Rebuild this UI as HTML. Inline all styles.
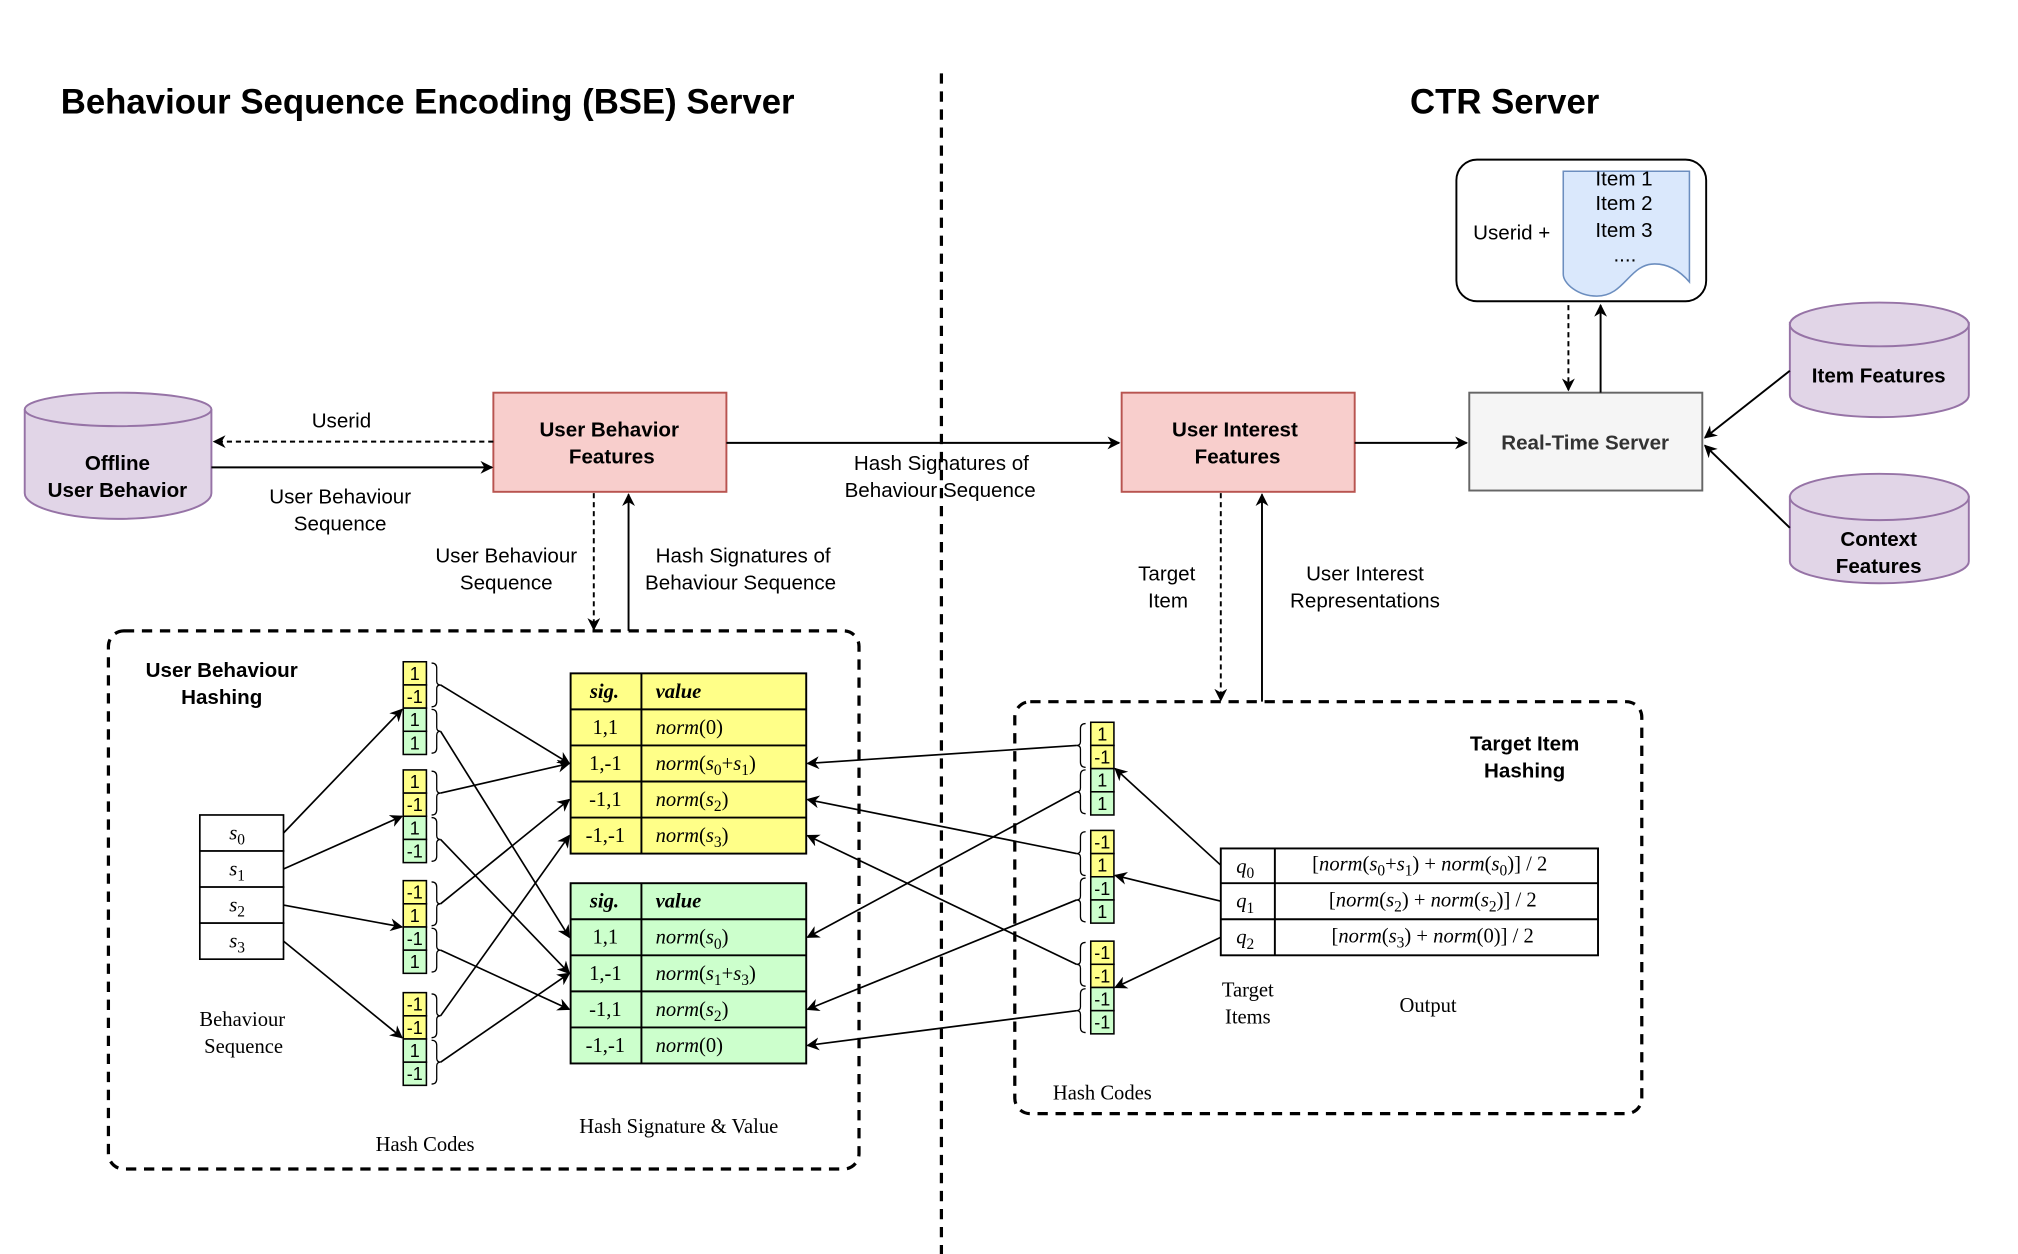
<!DOCTYPE html>
<html><head><meta charset="utf-8"><style>
html,body{margin:0;padding:0;background:#fff;}
svg{display:block;}
.s{font-family:"Liberation Sans",sans-serif;}
.r{font-family:"Liberation Serif",serif;}
</style></head><body>
<svg width="2018" height="1254" viewBox="0 0 1567 974" xmlns="http://www.w3.org/2000/svg">
<defs>
<marker id="a" markerWidth="10" markerHeight="10" refX="9" refY="5" orient="auto" markerUnits="userSpaceOnUse"><path d="M0,0 L10,5 L0,10 L3,5 Z" fill="#000"/></marker>
</defs>
<rect width="1567" height="974" fill="#fff"/>
<text x="47" y="88" class="s" font-size="27" font-weight="bold">Behaviour Sequence Encoding (BSE) Server</text>
<text x="1095" y="88" class="s" font-size="27" font-weight="bold">CTR Server</text>
<line x1="731" y1="57" x2="731" y2="974" stroke="#000" stroke-width="2.5" stroke-dasharray="8,6"/>

<g stroke="#9673a6" stroke-width="1.5" fill="#e1d5e7">
<path d="M19,318 L19,383 A72.5,20 0 0 0 164,383 L164,318"/>
<ellipse cx="91.5" cy="318" rx="72.5" ry="13"/>
<path d="M1390,250 L1390,307 A69.5,17 0 0 0 1529,307 L1529,250"/>
<ellipse cx="1459.5" cy="252" rx="69.5" ry="17"/>
<path d="M1390,385 L1390,436 A69.5,17 0 0 0 1529,436 L1529,385"/>
<ellipse cx="1459.5" cy="386" rx="69.5" ry="18"/>
</g>
<g class="s" font-size="16" font-weight="bold" text-anchor="middle">
<text x="91" y="365">Offline</text><text x="91" y="386">User Behavior</text>
<text x="1459" y="297">Item Features</text>
<text x="1459" y="424">Context</text><text x="1459" y="445">Features</text>
</g>

<rect x="383" y="305" width="181" height="77" fill="#f8cecc" stroke="#b85450" stroke-width="1.5"/>
<rect x="871" y="305" width="181" height="77" fill="#f8cecc" stroke="#b85450" stroke-width="1.5"/>
<rect x="1141" y="305" width="181" height="76" fill="#f5f5f5" stroke="#666" stroke-width="1.5"/>
<g class="s" font-size="16" font-weight="bold" text-anchor="middle">
<text x="473" y="339">User Behavior</text><text x="475" y="360">Features</text>
<text x="959" y="339">User Interest</text><text x="961" y="360">Features</text>
<text x="1231" y="349" fill="#333">Real-Time Server</text>
</g>

<rect x="1131" y="124" width="194" height="110" rx="16" fill="#fff" stroke="#000" stroke-width="1.5"/>
<path d="M1214,133 L1312,133 L1312,219 Q1300,205 1285,205 C1265,205 1262,230 1240,230 C1225,230 1214,220 1214,213 Z" fill="#dae8fc" stroke="#6c8ebf" stroke-width="1.2"/>
<g class="s" font-size="16">
<text x="1144" y="186">Userid +</text>
<text x="1239" y="144">Item 1</text><text x="1239" y="163">Item 2</text><text x="1239" y="184">Item 3</text>
<text x="1253" y="203">....</text>
</g>

<g stroke="#000" stroke-width="1.5" fill="none" marker-end="url(#a)">
<line x1="383" y1="343" x2="166" y2="343" stroke-dasharray="4,3"/>
<line x1="164" y1="363" x2="382" y2="363"/>
<line x1="564" y1="344" x2="869" y2="344"/>
<line x1="1052" y1="344" x2="1139" y2="344"/>
<line x1="1218" y1="237" x2="1218" y2="303" stroke-dasharray="4,3"/>
<line x1="1243" y1="305" x2="1243" y2="237"/>
<line x1="1390" y1="288" x2="1324" y2="340"/>
<line x1="1390" y1="410" x2="1324" y2="346"/>
<line x1="461" y1="383" x2="461" y2="489" stroke-dasharray="4,3"/>
<line x1="488" y1="490" x2="488" y2="384"/>
<line x1="948" y1="383" x2="948" y2="544" stroke-dasharray="4,3"/>
<line x1="980" y1="545" x2="980" y2="384"/>
</g>
<g class="s" font-size="16" text-anchor="middle">
<text x="265" y="332">Userid</text>
<text x="264" y="391">User Behaviour</text><text x="264" y="412">Sequence</text>
<text x="731" y="365">Hash Signatures of</text><text x="730" y="386">Behaviour Sequence</text>
<text x="393" y="437">User Behaviour</text><text x="393" y="458">Sequence</text>
<text x="577" y="437">Hash Signatures of</text><text x="575" y="458">Behaviour Sequence</text>
<text x="906" y="451">Target</text><text x="907" y="472">Item</text>
<text x="1060" y="451">User Interest</text><text x="1060" y="472">Representations</text>
</g>

<rect x="84" y="490" width="583" height="418" rx="12" fill="none" stroke="#000" stroke-width="2.5" stroke-dasharray="8,6"/>
<rect x="788" y="545" width="487" height="320" rx="12" fill="none" stroke="#000" stroke-width="2.5" stroke-dasharray="8,6"/>
<g class="s" font-size="16" font-weight="bold" text-anchor="middle">
<text x="172" y="526">User Behaviour</text><text x="172" y="547">Hashing</text>
<text x="1184" y="583">Target Item</text><text x="1184" y="604">Hashing</text>
</g>

<g stroke="#000" stroke-width="1.3" fill="#fff">
<rect x="155" y="633" width="65" height="28"/><rect x="155" y="661" width="65" height="28"/>
<rect x="155" y="689" width="65" height="28"/><rect x="155" y="717" width="65" height="28"/>
</g>
<g class="r" font-size="16" font-style="italic" text-anchor="middle">
<text x="184" y="652">s<tspan font-size="12" dy="4" font-style="normal">0</tspan></text>
<text x="184" y="680">s<tspan font-size="12" dy="4" font-style="normal">1</tspan></text>
<text x="184" y="708">s<tspan font-size="12" dy="4" font-style="normal">2</tspan></text>
<text x="184" y="736">s<tspan font-size="12" dy="4" font-style="normal">3</tspan></text>
</g>

<g stroke="#000" stroke-width="1.2">
<rect x="313" y="514" width="18" height="18" fill="#ffff88"/><rect x="313" y="532" width="18" height="18" fill="#ffff88"/><rect x="313" y="550" width="18" height="18" fill="#ccffcc"/><rect x="313" y="568" width="18" height="18" fill="#ccffcc"/>
<rect x="313" y="598" width="18" height="18" fill="#ffff88"/><rect x="313" y="616" width="18" height="18" fill="#ffff88"/><rect x="313" y="634" width="18" height="18" fill="#ccffcc"/><rect x="313" y="652" width="18" height="18" fill="#ccffcc"/>
<rect x="313" y="684" width="18" height="18" fill="#ffff88"/><rect x="313" y="702" width="18" height="18" fill="#ffff88"/><rect x="313" y="720" width="18" height="18" fill="#ccffcc"/><rect x="313" y="738" width="18" height="18" fill="#ccffcc"/>
<rect x="313" y="771" width="18" height="18" fill="#ffff88"/><rect x="313" y="789" width="18" height="18" fill="#ffff88"/><rect x="313" y="807" width="18" height="18" fill="#ccffcc"/><rect x="313" y="825" width="18" height="18" fill="#ccffcc"/>
<rect x="847" y="561" width="18" height="18" fill="#ffff88"/><rect x="847" y="579" width="18" height="18" fill="#ffff88"/><rect x="847" y="597" width="18" height="18" fill="#ccffcc"/><rect x="847" y="615" width="18" height="18" fill="#ccffcc"/>
<rect x="847" y="645" width="18" height="18" fill="#ffff88"/><rect x="847" y="663" width="18" height="18" fill="#ffff88"/><rect x="847" y="681" width="18" height="18" fill="#ccffcc"/><rect x="847" y="699" width="18" height="18" fill="#ccffcc"/>
<rect x="847" y="731" width="18" height="18" fill="#ffff88"/><rect x="847" y="749" width="18" height="18" fill="#ffff88"/><rect x="847" y="767" width="18" height="18" fill="#ccffcc"/><rect x="847" y="785" width="18" height="18" fill="#ccffcc"/>
</g>
<g class="s" font-size="14" text-anchor="middle">
<text x="322" y="528">1</text><text x="322" y="546">-1</text><text x="322" y="564">1</text><text x="322" y="582">1</text>
<text x="322" y="612">1</text><text x="322" y="630">-1</text><text x="322" y="648">1</text><text x="322" y="666">-1</text>
<text x="322" y="698">-1</text><text x="322" y="716">1</text><text x="322" y="734">-1</text><text x="322" y="752">1</text>
<text x="322" y="785">-1</text><text x="322" y="803">-1</text><text x="322" y="821">1</text><text x="322" y="839">-1</text>
<text x="856" y="575">1</text><text x="856" y="593">-1</text><text x="856" y="611">1</text><text x="856" y="629">1</text>
<text x="856" y="659">-1</text><text x="856" y="677">1</text><text x="856" y="695">-1</text><text x="856" y="713">1</text>
<text x="856" y="745">-1</text><text x="856" y="763">-1</text><text x="856" y="781">-1</text><text x="856" y="799">-1</text>
</g>
<g stroke="#000" stroke-width="1" fill="none">
<path d="M335,515 q4,0 4,4 v10 q0,3 3,3 q-3,0 -3,3 v10 q0,4 -4,4"/>
<path d="M335,551 q4,0 4,4 v10 q0,3 3,3 q-3,0 -3,3 v10 q0,4 -4,4"/>
<path d="M335,599 q4,0 4,4 v10 q0,3 3,3 q-3,0 -3,3 v10 q0,4 -4,4"/>
<path d="M335,635 q4,0 4,4 v10 q0,3 3,3 q-3,0 -3,3 v10 q0,4 -4,4"/>
<path d="M335,685 q4,0 4,4 v10 q0,3 3,3 q-3,0 -3,3 v10 q0,4 -4,4"/>
<path d="M335,721 q4,0 4,4 v10 q0,3 3,3 q-3,0 -3,3 v10 q0,4 -4,4"/>
<path d="M335,772 q4,0 4,4 v10 q0,3 3,3 q-3,0 -3,3 v10 q0,4 -4,4"/>
<path d="M335,808 q4,0 4,4 v10 q0,3 3,3 q-3,0 -3,3 v10 q0,4 -4,4"/>
<path d="M843,562 q-4,0 -4,4 v10 q0,3 -3,3 q3,0 3,3 v10 q0,4 4,4"/>
<path d="M843,598 q-4,0 -4,4 v10 q0,3 -3,3 q3,0 3,3 v10 q0,4 4,4"/>
<path d="M843,646 q-4,0 -4,4 v10 q0,3 -3,3 q3,0 3,3 v10 q0,4 4,4"/>
<path d="M843,682 q-4,0 -4,4 v10 q0,3 -3,3 q3,0 3,3 v10 q0,4 4,4"/>
<path d="M843,732 q-4,0 -4,4 v10 q0,3 -3,3 q3,0 3,3 v10 q0,4 4,4"/>
<path d="M843,768 q-4,0 -4,4 v10 q0,3 -3,3 q3,0 3,3 v10 q0,4 4,4"/>
</g>

<g stroke="#000" stroke-width="1.5">
<rect x="443" y="523" width="183" height="140" fill="#ffff88"/>
<rect x="443" y="686" width="183" height="140" fill="#ccffcc"/>
<line x1="498" y1="523" x2="498" y2="663"/><line x1="498" y1="686" x2="498" y2="826"/>
<line x1="443" y1="551" x2="626" y2="551"/><line x1="443" y1="579" x2="626" y2="579"/><line x1="443" y1="607" x2="626" y2="607"/><line x1="443" y1="635" x2="626" y2="635"/>
<line x1="443" y1="714" x2="626" y2="714"/><line x1="443" y1="742" x2="626" y2="742"/><line x1="443" y1="770" x2="626" y2="770"/><line x1="443" y1="798" x2="626" y2="798"/>
</g>
<g class="r" font-size="16">
<g font-style="italic" font-weight="bold"><text x="458" y="542">sig.</text><text x="509" y="542">value</text><text x="458" y="705">sig.</text><text x="509" y="705">value</text></g>
<g text-anchor="middle"><text x="470" y="570">1,1</text><text x="470" y="598">1,-1</text><text x="470" y="626">-1,1</text><text x="470" y="654">-1,-1</text>
<text x="470" y="733">1,1</text><text x="470" y="761">1,-1</text><text x="470" y="789">-1,1</text><text x="470" y="817">-1,-1</text></g>
<text x="509" y="570"><tspan font-style="italic">norm</tspan>(0)</text>
<text x="509" y="598"><tspan font-style="italic">norm</tspan>(<tspan font-style="italic">s</tspan><tspan font-size="12" dy="4">0</tspan><tspan dy="-4">+</tspan><tspan font-style="italic">s</tspan><tspan font-size="12" dy="4">1</tspan><tspan dy="-4">)</tspan></text>
<text x="509" y="626"><tspan font-style="italic">norm</tspan>(<tspan font-style="italic">s</tspan><tspan font-size="12" dy="4">2</tspan><tspan dy="-4">)</tspan></text>
<text x="509" y="654"><tspan font-style="italic">norm</tspan>(<tspan font-style="italic">s</tspan><tspan font-size="12" dy="4">3</tspan><tspan dy="-4">)</tspan></text>
<text x="509" y="733"><tspan font-style="italic">norm</tspan>(<tspan font-style="italic">s</tspan><tspan font-size="12" dy="4">0</tspan><tspan dy="-4">)</tspan></text>
<text x="509" y="761"><tspan font-style="italic">norm</tspan>(<tspan font-style="italic">s</tspan><tspan font-size="12" dy="4">1</tspan><tspan dy="-4">+</tspan><tspan font-style="italic">s</tspan><tspan font-size="12" dy="4">3</tspan><tspan dy="-4">)</tspan></text>
<text x="509" y="789"><tspan font-style="italic">norm</tspan>(<tspan font-style="italic">s</tspan><tspan font-size="12" dy="4">2</tspan><tspan dy="-4">)</tspan></text>
<text x="509" y="817"><tspan font-style="italic">norm</tspan>(0)</text>
</g>

<g stroke="#000" stroke-width="1.5" fill="#fff">
<rect x="948" y="659" width="293" height="83"/>
<line x1="990" y1="659" x2="990" y2="742"/><line x1="948" y1="686" x2="1241" y2="686"/><line x1="948" y1="714" x2="1241" y2="714"/>
</g>
<g class="r" font-size="16">
<text x="960" y="678" font-style="italic">q<tspan font-size="12" dy="4" font-style="normal">0</tspan></text>
<text x="960" y="705" font-style="italic">q<tspan font-size="12" dy="4" font-style="normal">1</tspan></text>
<text x="960" y="733" font-style="italic">q<tspan font-size="12" dy="4" font-style="normal">2</tspan></text>
<text x="1019" y="676">[<tspan font-style="italic">norm</tspan>(<tspan font-style="italic">s</tspan><tspan font-size="12" dy="4">0</tspan><tspan dy="-4">+</tspan><tspan font-style="italic">s</tspan><tspan font-size="12" dy="4">1</tspan><tspan dy="-4">) + </tspan><tspan font-style="italic">norm</tspan>(<tspan font-style="italic">s</tspan><tspan font-size="12" dy="4">0</tspan><tspan dy="-4">)] / 2</tspan></text>
<text x="1032" y="704">[<tspan font-style="italic">norm</tspan>(<tspan font-style="italic">s</tspan><tspan font-size="12" dy="4">2</tspan><tspan dy="-4">) + </tspan><tspan font-style="italic">norm</tspan>(<tspan font-style="italic">s</tspan><tspan font-size="12" dy="4">2</tspan><tspan dy="-4">)] / 2</tspan></text>
<text x="1034" y="732">[<tspan font-style="italic">norm</tspan>(<tspan font-style="italic">s</tspan><tspan font-size="12" dy="4">3</tspan><tspan dy="-4">) + </tspan><tspan font-style="italic">norm</tspan>(0)] / 2</text>
</g>

<g stroke="#000" stroke-width="1.3" fill="none" marker-end="url(#a)">
<line x1="220" y1="647" x2="312" y2="551"/>
<line x1="220" y1="675" x2="312" y2="634"/>
<line x1="220" y1="703" x2="312" y2="720"/>
<line x1="220" y1="731" x2="312" y2="806"/>
<line x1="342" y1="532" x2="442" y2="593"/>
<line x1="342" y1="568" x2="442" y2="728"/>
<line x1="342" y1="616" x2="442" y2="593"/>
<line x1="342" y1="652" x2="442" y2="756"/>
<line x1="342" y1="702" x2="442" y2="621"/>
<line x1="342" y1="738" x2="442" y2="784"/>
<line x1="342" y1="789" x2="442" y2="649"/>
<line x1="342" y1="825" x2="442" y2="756"/>
<line x1="836" y1="579" x2="627" y2="593"/>
<line x1="836" y1="615" x2="627" y2="728"/>
<line x1="836" y1="663" x2="627" y2="621"/>
<line x1="836" y1="699" x2="627" y2="784"/>
<line x1="836" y1="749" x2="627" y2="649"/>
<line x1="836" y1="785" x2="627" y2="812"/>
<line x1="948" y1="672" x2="866" y2="597"/>
<line x1="948" y1="700" x2="866" y2="680"/>
<line x1="948" y1="728" x2="866" y2="767"/>
</g>

<g class="r" font-size="16" text-anchor="middle">
<text x="188" y="797">Behaviour</text><text x="189" y="818">Sequence</text>
<text x="330" y="894">Hash Codes</text>
<text x="527" y="880">Hash Signature &amp; Value</text>
<text x="969" y="774">Target</text><text x="969" y="795">Items</text>
<text x="1109" y="786">Output</text>
<text x="856" y="854">Hash Codes</text>
</g>
</svg>
</body></html>
